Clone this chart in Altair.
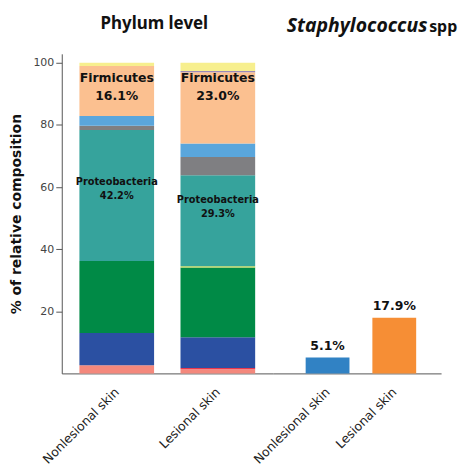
import altair as alt
import pandas as pd

samples = ["Nonlesional skin", "Lesional skin"]
phyla = ["Other", "Fusobacteria", "Bacteroidetes", "Actinobacteria",
         "Deinococcus-Thermus", "Proteobacteria", "Cyanobacteria",
         "Acidobacteria", "Firmicutes", "Chloroflexi", "Unclassified"]
nonlesional = [2.6, 0.0, 10.4, 23.2, 0.0, 42.2, 1.3, 3.2, 16.1, 0.0, 1.0]
lesional = [1.3, 0.4, 9.9, 22.5, 0.4, 29.3, 5.9, 4.3, 23.0, 0.4, 2.6]
phylum_colors = ["#f4887c", "#e8384f", "#2b50a2", "#008a46", "#cddc4e",
                 "#36a39c", "#7f7f82", "#5aa6dc", "#fbc090", "#9b8ab8", "#f7ef8e"]

staph_samples = ["Nonlesional skin", "Lesional skin"]
staph_values = [5.1, 17.9]
staph_colors = ["#3182c4", "#f68e35"]

FONT = "DejaVu Sans"
TITLE_FONT = "Noto Sans"
YMAX = 102.9

rows = []
for s, vals in zip(samples, [nonlesional, lesional]):
    for i, (p, v) in enumerate(zip(phyla, vals)):
        rows.append({"sample": s, "phylum": p, "value": v, "idx": i})
df = pd.DataFrame(rows)

yscale = alt.Scale(domain=[0, YMAX], nice=False, zero=True)

xaxis = dict(title=None, labelAngle=-45, labelAlign="right", labelBaseline="top",
             labelFontSize=12.5, ticks=False, labelPadding=12, labelColor="#222",
             domainColor="#555", labelOffset=-4)

bars = alt.Chart(df).mark_bar(size=75).encode(
    x=alt.X("sample:N", sort=samples,
            scale=alt.Scale(paddingOuter=0.044, paddingInner=0),
            axis=alt.Axis(**xaxis)),
    y=alt.Y("value:Q", stack="zero", scale=yscale,
            axis=alt.Axis(title="% of relative composition", values=[20, 40, 60, 80, 100],
                          grid=False, tickSize=6, labelFontSize=11, labelColor="#444",
                          tickColor="#555", domainColor="#555", titleFontSize=14,
                          titleFontWeight="bold", titleColor="#111", titlePadding=9)),
    color=alt.Color("phylum:N", scale=alt.Scale(domain=phyla, range=phylum_colors), legend=None),
    order=alt.Order("idx:Q"),
)


def seg_mid(vals, name):
    i = phyla.index(name)
    below = sum(vals[:i])
    return below + vals[i] / 2.0


label_specs = [
    (samples[0], "Firmicutes", nonlesional, 12.5, 18, -13),
    (samples[1], "Firmicutes", lesional, 12.5, 18, -30),
    (samples[0], "Proteobacteria", nonlesional, 9.8, 14, -13),
    (samples[1], "Proteobacteria", lesional, 9.8, 14, -21),
]
label_layers = []
for s, name, vals, fs, lh, dy in label_specs:
    i = phyla.index(name)
    ldf = pd.DataFrame([{"sample": s, "mid": seg_mid(vals, name),
                         "label": f"{name}\n{vals[i]:.1f}%"}])
    label_layers.append(
        alt.Chart(ldf).mark_text(fontSize=fs, fontWeight="bold", lineBreak="\n",
                                 lineHeight=lh, baseline="middle", align="center",
                                 color="#111", dy=dy).encode(
            x=alt.X("sample:N", sort=samples),
            y=alt.Y("mid:Q", scale=yscale),
            text="label:N",
        )
    )

left_title = alt.Chart(pd.DataFrame({"t": ["Phylum level"]})).mark_text(
    font=TITLE_FONT, fontSize=17, fontWeight="bold", align="center",
    baseline="alphabetic", color="#111"
).encode(x=alt.value(93), y=alt.value(-25), text="t:N")

left = alt.layer(bars, *label_layers, left_title).properties(width=212, height=321)

sdf = pd.DataFrame({"sample": staph_samples, "value": staph_values, "color": staph_colors})
sdf["label"] = [f"{v:.1f}%" for v in staph_values]

sx = alt.X("sample:N", sort=staph_samples,
           scale=alt.Scale(paddingOuter=0.261, paddingInner=0, align=0.614),
           axis=alt.Axis(**xaxis))
sbars = alt.Chart(sdf).mark_bar(size=44).encode(
    x=sx,
    y=alt.Y("value:Q", scale=yscale, axis=None),
    color=alt.Color("color:N", scale=None),
)
stext = alt.Chart(sdf).mark_text(fontSize=12.5, fontWeight="bold", dy=-5,
                                 baseline="bottom", color="#111").encode(
    x=alt.X("sample:N", sort=staph_samples),
    y=alt.Y("value:Q", scale=yscale),
    text="label:N",
)
staph_title = alt.Chart(pd.DataFrame({"t": ["Staphylococcus"]})).mark_text(
    font=TITLE_FONT, fontSize=19.5, fontWeight="bold", fontStyle="italic", align="left",
    baseline="alphabetic", color="#111"
).encode(x=alt.value(14), y=alt.value(-22), text="t:N")
spp = alt.Chart(pd.DataFrame({"t": ["spp"]})).mark_text(
    font=TITLE_FONT, fontSize=16, fontWeight="bold", align="left",
    baseline="alphabetic", color="#111"
).encode(x=alt.value(157), y=alt.value(-22), text="t:N")

right = alt.layer(sbars, stext, staph_title, spp).properties(width=169, height=321)

chart = alt.hconcat(left, right, spacing=0, bounds="flush").properties(
    padding={"left": 2, "top": 6, "right": 0, "bottom": 0}
).configure(font=FONT).configure_view(stroke=None)

chart.save("out.html", embed_options={"renderer": "svg", "actions": False})
